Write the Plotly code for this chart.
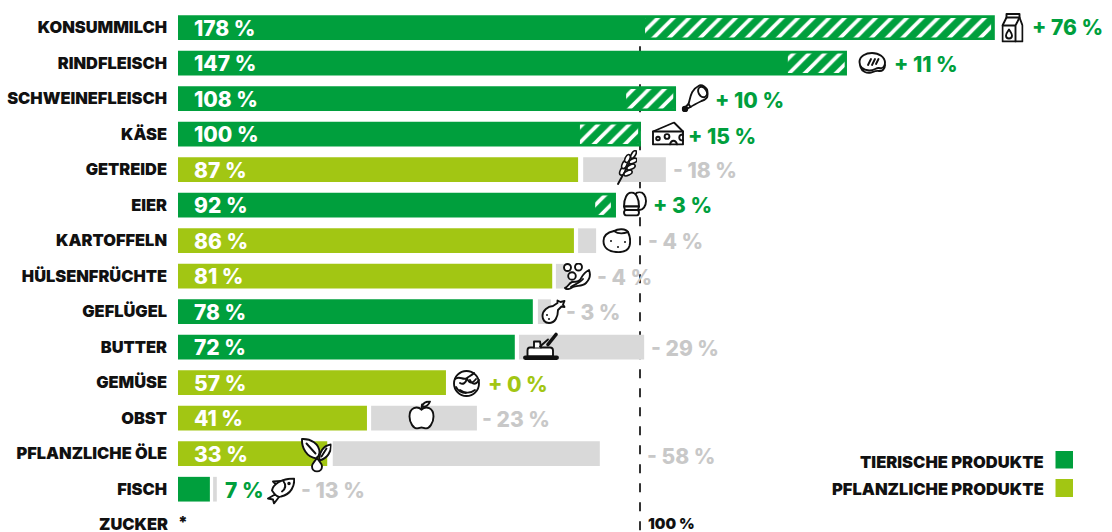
import base64
import plotly.graph_objects as go

# ---------- data (percent) ----------
categories = ["KONSUMMILCH", "RINDFLEISCH", "SCHWEINEFLEISCH", "KÄSE", "GETREIDE", "EIER", "KARTOFFELN",
              "HÜLSENFRÜCHTE", "GEFLÜGEL", "BUTTER", "GEMÜSE", "OBST", "PFLANZLICHE ÖLE", "FISCH", "ZUCKER"]
rows = list(range(len(categories)))
bar_values = [176.8, 144.8, 107.8, 100.2, 86.6, 94.8, 85.7, 81.0, 76.8, 72.9, 58.0, 40.9, 32.3, 6.9]
is_animal = [True, True, True, True, False, True, False, False, True, True, False, False, False, True]
value_labels = ["178 %", "147 %", "108 %", "100 %", "87 %", "92 %", "86 %", "81 %", "78 %", "72 %", "57 %", "41 %", "33 %"]
surplus_start = [101.1, 132.0, 97.0, 87.0, None, 90.3, None, None, None, None, None, None, None, None]
surplus_end = [176.0, 144.3, 107.2, 99.6, None, 93.7, None, None, None, None, None, None, None, None]
gap_start = [None, None, None, None, 87.7, None, 86.6, 81.8, 77.9, 73.8, None, 41.8, 33.5, 7.6]
gap_end = [None, None, None, None, 105.6, None, 90.5, 84.8, 80.7, 100.9, None, 64.7, 91.3, 8.4]
change_labels = ["+ 76 %", "+ 11 %", "+ 10 %", "+ 15 %", "- 18 %", "+ 3 %", "- 4 %", "- 4 %", "- 3 %",
                 "- 29 %", "+ 0 %", "- 23 %", "- 58 %", "- 13 %"]
legend_names = ["TIERISCHE PRODUKTE", "PFLANZLICHE PRODUKTE"]

# ---------- layout constants ----------
GREEN, LIME, GREY, GREYTXT = "#009f3d", "#a2c613", "#d9d9d9", "#c8c8c8"
FONT = "Inter"
PX_LEFT, PX_PER_PCT, PX_ROW0, PX_ROW = 178.0, 4.62, 27.7, 35.5
W, H = 1112, 532


def X(px):
    return (px - PX_LEFT) / PX_PER_PCT


def Y(py):
    return (py - PX_ROW0) / PX_ROW


change_left = [1032, 894, 715, 688, 673, 653, 648, 597, 566, 651, 488, 482, 647, 301]
change_cy = [27, 64, 100, 136, 170, 205, 241, 277, 312, 348, 384, 419, 456, 490]
change_color = [GREEN, GREEN, GREEN, GREEN, GREYTXT, GREEN, GREYTXT, GREYTXT, GREYTXT, GREYTXT, LIME, GREYTXT, GREYTXT, GREYTXT]

fig = go.Figure()
for animal, color in ((True, GREEN), (False, LIME)):
    idx = [i for i, a in enumerate(is_animal) if a == animal]
    fig.add_bar(x=[bar_values[i] for i in idx], y=[rows[i] for i in idx], orientation="h",
                width=24.7 / PX_ROW, marker=dict(color=color, line=dict(width=0)),
                name=legend_names[0 if animal else 1], showlegend=False)
idx = [i for i, v in enumerate(gap_start) if v is not None]
fig.add_bar(x=[gap_end[i] - gap_start[i] for i in idx], base=[gap_start[i] for i in idx],
            y=[rows[i] for i in idx], orientation="h", width=24.7 / PX_ROW,
            marker=dict(color=GREY, line=dict(width=0)), showlegend=False)
idx = [i for i, v in enumerate(surplus_start) if v is not None]
fig.add_bar(x=[surplus_end[i] - surplus_start[i] for i in idx], base=[surplus_start[i] for i in idx],
            y=[rows[i] for i in idx], orientation="h", width=19.5 / PX_ROW,
            marker=dict(color=GREEN, line=dict(width=0),
                        pattern=dict(shape="/", size=11, solidity=0.33, fgcolor="white", bgcolor=GREEN, fillmode="replace")),
            showlegend=False)

ann = []


def text(px, py, s, size, color, anchor="left", weight=800, height=None, xshift=0):
    d = dict(x=X(px), y=Y(py), text=s, showarrow=False, xanchor=anchor, yanchor="middle", xshift=xshift,
             font=dict(family=FONT, size=size, color=color, weight=weight), borderpad=0, borderwidth=0)
    if height:
        d["height"] = height
    ann.append(d)


for i, s in enumerate(value_labels):
    text(193.5, PX_ROW0 + PX_ROW * i + 0.5, s, 21, "white")
text(224.5, 490, "7 %", 21, GREEN)
for s, l, c, col in zip(change_labels, change_left, change_cy, change_color):
    text(l, c, s, 21, col)
text(178, 523.4, categories[14], 16.4, "#111", "right", weight=900, height=17, xshift=-10)
text(178, 521.5, "*", 16, "#111", weight=900)
text(648, 523.5, "100 %", 15, "#111", weight=900, height=15)
text(1043.5, 461.5, legend_names[0], 16.5, "#111", "right", weight=900)
text(1043.5, 489, legend_names[1], 16.5, "#111", "right", weight=900)

shapes = [
    dict(type="line", x0=100, x1=100, y0=Y(27.3), y1=Y(532), layer="below",
         line=dict(color="#333333", width=2, dash="9px,10px")),
    dict(type="rect", x0=X(1055.5), x1=X(1073), y0=Y(451), y1=Y(468.5), fillcolor=GREEN, line=dict(width=0)),
    dict(type="rect", x0=X(1055.5), x1=X(1073), y0=Y(479), y1=Y(497), fillcolor=LIME, line=dict(width=0)),
]

# ---------- icons: (left px, top px, w, h, svg body) ----------
DOT = 'fill="#111" stroke="none"'
icons = [
    (1001.5, 12.5, 22, 30, '<path d="M1 13L5 5V1.5H18V5L21 13V29H1Z"/><path d="M5 5H18M1 13H14L18 5M14 13V29" fill="none"/><path d="M7.5 17C5.5 20 4.5 21 4.5 23A3 3 0 0 0 10.5 23C10.5 21 9.5 20 7.5 17Z"/>'),
    (858, 52, 28, 22, '<path d="M1.5 10C1.5 4 8 1 14 1C21 1 27 5 27 11C27 15 24 17 21 16C18 15.5 16 19 11 18.5C5 18 1.5 15 1.5 10Z"/><path d="M2.5 15C4 20 9 21.5 13 20.5C16 19.5 18 18.5 21 19C24 19.5 27 17 27 13" fill="none"/><path d="M10 13L13 7M14 13L17 7M18 12L20.5 7" fill="none"/>'),
    (681.5, 84, 27, 28, '<path d="M7 20C9 14 9 6 17 2C20 0 26 3 26.5 9C27 13 24 16 20 17C16 19 12 21 9 23Z"/><ellipse cx="21" cy="8" rx="4" ry="5.5" transform="rotate(-30 21 8)"/><circle cx="3.5" cy="25" r="2.3" fill="#111"/><path d="M7 20L4 23M9 23L5 25" fill="none"/>'),
    (652, 121.5, 32, 24, '<path d="M1 10L22 1L31 10V23H1Z"/><path d="M1 10H31" fill="none"/><circle cx="6" cy="17" r="1.8"/><circle cx="15" cy="15" r="2.4"/><path d="M31 13C26 13 26 19 31 19" fill="none"/><path d="M18 23C19 18 24 18 25 23" fill="none"/>'),
    (617, 150, 20, 35, '<path d="M1 34L19 1" fill="none"/><g stroke-width="1.6"><ellipse cx="5.5" cy="21" rx="2.3" ry="4.4" transform="rotate(25 5.5 21)"/><ellipse cx="7.5" cy="14.5" rx="2.3" ry="4.4" transform="rotate(25 7.5 14.5)"/><ellipse cx="10.5" cy="8.5" rx="2.3" ry="4.2" transform="rotate(25 10.5 8.5)"/><ellipse cx="11" cy="23" rx="2.3" ry="4.4" transform="rotate(65 11 23)"/><ellipse cx="14" cy="17" rx="2.3" ry="4.4" transform="rotate(65 14 17)"/><ellipse cx="16" cy="11" rx="2.3" ry="4.2" transform="rotate(65 16 11)"/><ellipse cx="16.5" cy="4.5" rx="2" ry="4.2" transform="rotate(30 16.5 4.5)"/></g>'),
    (622, 191.5, 25, 25, '<ellipse cx="17.5" cy="9.5" rx="6.5" ry="9"/><path d="M2 15C2 7 5 1 9.5 1C14 1 17 7 17 15Z"/><path d="M2 15H17L16 18.5L17 20.5C17 22.5 16 24 14.5 24H4.5C3 24 2 22.5 2 20.5L3 18.5Z"/><path d="M3 18.5H16" fill="none"/>'),
    (602, 228, 29, 25, f'<path d="M1.5 13C1.5 7 7 4 12 3C16 .5 24 .5 26 4C28.5 9 28.5 14 27.5 18C26 23 20 24.5 14 24C7 23.5 1.5 20 1.5 13Z"/><path d="M12 3C16 6 22 5.5 26 4" fill="none"/><circle cx="9" cy="13" r="1" {DOT}/><circle cx="16" cy="19" r="1" {DOT}/><circle cx="23" cy="14" r="1" {DOT}/>'),
    (563, 263, 28, 27, '<circle cx="4.5" cy="4.5" r="3.5"/><circle cx="15.5" cy="4" r="3.5"/><circle cx="9" cy="13" r="3.8"/><path d="M2 25C5 24 6 20 9 19C13 18 14 20 17 17C19 14 20 10 26 7C28 12 26 17 23 20C19 24 14 22 10 24C7 26 4 27 2 25Z"/><path d="M8 24C10 22 17 20 20 16" fill="none"/>'),
    (541, 299, 25, 25, f'<path d="M1.5 17C1.5 11 7 7.5 12 7L16.5 4L16.5 1.5L19.5 3L23.5 2L22 5.5L23.5 8L20.5 7.5L17 11C17 18 14 24 8 24C4 24 1.5 21 1.5 17Z"/><circle cx="6" cy="16" r="1" {DOT}/><circle cx="8" cy="20" r="1" {DOT}/>'),
    (523, 331.5, 36, 29, '<path d="M25 13L33 3" fill="none" stroke-width="3.6"/><path d="M4.5 25V19Q4.5 16 7 16H27Q30 16 30 19V25Z"/><path d="M11 16V10H17L18 16" /><path d="M17 15L25 8" fill="none"/><rect x="1" y="25" width="34" height="2.5" rx="1.2" fill="#111"/>'),
    (452, 370, 29, 27, '<circle cx="14.5" cy="13.5" r="12.5"/><path d="M3 9C8 5 11 11 15 8C18 6 20 5 22 3M15 8C14 13 11 15 8 13M15 8C17 14 20 14 24 9M18 10C20 15 24 15 27 10M4 17C6 21 10 23 14 23M8 20C12 23 18 24 23 20" fill="none"/>'),
    (408, 400.5, 27, 29, '<path d="M13.5 9C9 5 1.5 7 1.5 16C1.5 23 6 28 9 28C11 28 12 27 13.5 27C15 27 16 28 18 28C21 28 25.5 23 25.5 16C25.5 7 18 5 13.5 9Z"/><path d="M13.5 9L14 4" fill="none"/><path d="M14 6C15 2 19 1 22 1C21 4 18 7 14 6Z"/>'),
    (300.5, 437.5, 31, 35, '<path d="M16 21C6 20 1 10 1.5 1.5C10 1 19 6 19 15C19 17 18 19 16 21Z"/><path d="M6 6L15 16" fill="none"/><path d="M19 23C18 15 23 8 30.5 7C31 14 27 21 19 23Z"/><path d="M26 11L21 19" fill="none"/><path d="M16.5 20C15 24 11.5 25.5 11.5 29A5 5 0 0 0 21.5 29C21.5 25.5 18 24 16.5 20Z"/>'),
    (267, 477.5, 28, 27, '<path d="M10 8L6 4L14 3.5"/><path d="M8 17L1 21L6 22L7 26L12 19.5Z"/><path d="M5 13C6 7 14 1 27 1C28 8 24 17 14 19C12 20 9 19 5 13Z"/><path d="M16 3C19 7 19 11 15 14" fill="none"/><circle cx="22" cy="6" r=".8"/>'),
]

images = []
for left, top, w, h, body in icons:
    svg = (f'<svg xmlns="http://www.w3.org/2000/svg" width="{w*4}" height="{h*4}" viewBox="0 0 {w} {h}">'
           f'<g fill="white" stroke="#111" stroke-width="1.9" stroke-linejoin="round" stroke-linecap="round">{body}</g></svg>')
    src = "data:image/svg+xml;base64," + base64.b64encode(svg.encode()).decode()
    images.append(dict(source=src, xref="x", yref="y", x=X(left), y=Y(top), sizex=w / PX_PER_PCT, sizey=h / PX_ROW,
                       xanchor="left", yanchor="top", sizing="stretch", layer="above"))

fig.update_layout(
    width=W, height=H, margin=dict(l=178, r=0, t=0, b=0), autosize=False,
    paper_bgcolor="white", plot_bgcolor="white", barmode="overlay", showlegend=False, hovermode=False,
    xaxis=dict(range=[0, X(W)], showgrid=False, zeroline=False, showticklabels=False, ticks="", showline=False),
    yaxis=dict(range=[Y(H), Y(0)], tickmode="array", tickvals=rows[:14], ticktext=categories[:14], showgrid=False,
               zeroline=False, showline=False, ticks="", ticklabelstandoff=10,
               tickfont=dict(family=FONT, size=16.4, color="#111", weight=900)),
    annotations=ann, shapes=shapes, images=images,
)
fig.write_html("out.html", post_script="document.body.style.margin='0';", config={"displayModeBar": False})
